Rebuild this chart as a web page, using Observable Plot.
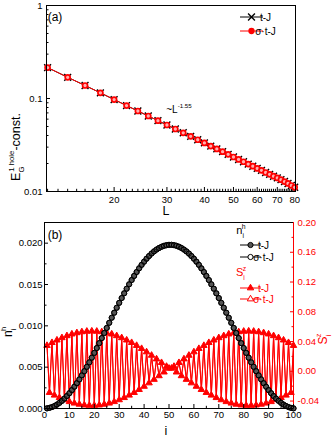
<!DOCTYPE html>
<html>
<head>
<meta charset="utf-8">
<script src="https://cdn.jsdelivr.net/npm/d3@7"></script>
<script src="https://cdn.jsdelivr.net/npm/@observablehq/plot@0.6"></script>
<style>
  html,body{margin:0;padding:0;background:#fff;}
  #chart{width:332px;height:439px;position:relative;overflow:hidden;}
  #pa{position:absolute;left:0;top:0;width:332px;height:215px;}
  #pb{position:absolute;left:0;top:215px;width:332px;height:224px;}
  #pa svg,#pb svg{position:absolute;left:0;top:0;}
</style>
</head>
<body>
<div id="chart"><div id="pa"></div><div id="pb"></div></div>
<script>
// ---------------- data: panel (a) ----------------
const sizesL = [12,14,16,18,20,22,24,26,28,30,32,34,36,38,40,42,44,46,48,50,52,54,56,58,60,62,64,66,68,70,72,74,76,78,80];
const egTJ = [0.215,0.169,0.138,0.115,0.0974,0.0840,0.0734,0.0648,0.0578,0.0519,0.0470,0.0428,0.0392,0.0360,0.0333,0.0308,0.0287,0.0268,0.0251,0.0235,0.0221,0.0209,0.0197,0.0187,0.0177,0.0169,0.0160,0.0153,0.0146,0.0140,0.0134,0.0128,0.0122,0.0116,0.0111];
const egSigmaTJ = [0.215,0.169,0.138,0.115,0.0974,0.0840,0.0734,0.0648,0.0578,0.0519,0.0470,0.0428,0.0392,0.0360,0.0333,0.0308,0.0287,0.0268,0.0251,0.0235,0.0221,0.0209,0.0197,0.0187,0.0177,0.0169,0.0160,0.0153,0.0146,0.0140,0.0134,0.0128,0.0122,0.0116,0.0111];
const xTickLabelsA = [20,30,40,50,60,70,80];
const yTickLabelsA = [0.01,0.1,1];

// ---------------- data: panel (b) ----------------
const sites = Array.from({length:100},(_,k)=>k+1);
const nhTJ = [
0.000019,0.000077,0.000172,0.000305,0.000475,0.000682,0.000924,0.001201,0.001512,0.001855,
0.002228,0.002633,0.003064,0.003523,0.004007,0.004513,0.005041,0.005585,0.006148,0.006727,
0.007313,0.007910,0.008519,0.009131,0.009746,0.010366,0.010980,0.011587,0.012188,0.012780,
0.013361,0.013935,0.014490,0.015027,0.015543,0.016039,0.016513,0.016957,0.017375,0.017764,
0.018123,0.018449,0.018744,0.019004,0.019228,0.019417,0.019568,0.019682,0.019759,0.019797,
0.019797,0.019759,0.019682,0.019568,0.019417,0.019228,0.019004,0.018744,0.018449,0.018123,
0.017764,0.017375,0.016957,0.016513,0.016039,0.015543,0.015027,0.014490,0.013935,0.013361,
0.012780,0.012188,0.011587,0.010980,0.010366,0.009746,0.009131,0.008519,0.007910,0.007313,
0.006727,0.006148,0.005585,0.005041,0.004513,0.004007,0.003523,0.003064,0.002633,0.002228,
0.001855,0.001512,0.001201,0.000924,0.000682,0.000475,0.000305,0.000172,0.000077,0.000019];
const nhSigmaTJ = nhTJ;
const szTJ = [
0.0346,-0.0286,0.0385,-0.0322,0.0419,-0.0355,0.0450,-0.0384,0.0477,-0.0409,
0.0500,-0.0429,0.0517,-0.0444,0.0530,-0.0454,0.0537,-0.0459,0.0540,-0.0459,
0.0537,-0.0454,0.0530,-0.0444,0.0517,-0.0429,0.0500,-0.0409,0.0477,-0.0384,
0.0450,-0.0355,0.0419,-0.0322,0.0385,-0.0286,0.0346,-0.0246,0.0305,-0.0203,
0.0260,-0.0157,0.0214,-0.0110,0.0165,-0.0061,0.0116,-0.0011,0.0065,0.0040,
0.0040,0.0065,-0.0011,0.0116,-0.0061,0.0165,-0.0110,0.0214,-0.0157,0.0260,
-0.0203,0.0305,-0.0246,0.0346,-0.0286,0.0385,-0.0322,0.0419,-0.0355,0.0450,
-0.0384,0.0477,-0.0409,0.0500,-0.0429,0.0517,-0.0444,0.0530,-0.0454,0.0537,
-0.0459,0.0540,-0.0459,0.0537,-0.0454,0.0530,-0.0444,0.0517,-0.0429,0.0500,
-0.0409,0.0477,-0.0384,0.0450,-0.0355,0.0419,-0.0322,0.0385,-0.0286,0.0346];
const szSigmaTJ = szTJ;
const xTickLabelsB = [0,10,20,30,40,50,60,70,80,90,100];
const yTickLabelsBLeft = [0,0.005,0.010,0.015,0.020];
const yTickLabelsBRight = [-0.04,0,0.04,0.08,0.12,0.16,0.20];
const seriesNames = ["t-J","σ·t-J"];

// ---------------- styling ----------------
const FONT = "'Liberation Sans', Arial, Helvetica, sans-serif";
const RED = "#ff0000";
const baseStyle = {background:"transparent", fontFamily:FONT, fontSize:"9.5px", color:"black", overflow:"visible"};

// ---------------- panel (a) ----------------
const tableA = sizesL.map((L,k)=>({L, tj:egTJ[k], stj:egSigmaTJ[k]}));
const minorXA = d3.range(12,80).filter(v=>v%10!==0);
const minorYA = [2,3,4,5,6,7,8,9].flatMap(m=>[m*0.01,m*0.1]);
const blank = ()=>"";

const plotA = Plot.plot({
  width:332, height:215, marginTop:5, marginRight:37, marginBottom:24, marginLeft:46,
  style:baseStyle,
  x:{type:"log", domain:[11.9,80.5], axis:null},
  y:{type:"log", domain:[0.01,1], axis:null},
  marks:[
    Plot.axisX(minorXA,{tickSize:2.2, dy:-2.2, tickFormat:blank, label:null}),
    Plot.axisX(xTickLabelsA,{tickSize:4, dy:-4, tickFormat:blank, label:null}),
    Plot.text(xTickLabelsA,{x:d=>d, frameAnchor:"bottom", lineAnchor:"top", dy:5, text:d=>String(d), fill:"black", fontSize:9.5}),
    Plot.axisY(minorYA,{tickSize:2.5, dx:2.5, tickFormat:blank, label:null}),
    Plot.axisY(yTickLabelsA,{tickSize:4, dx:4, tickFormat:blank, label:null}),
    Plot.axisY(yTickLabelsA,{tickSize:0, tickPadding:4, tickFormat:d=>String(d), label:null}),
    Plot.line(tableA,{x:"L", y:"tj", stroke:"black", strokeWidth:1}),
    Plot.dot(tableA,{x:"L", y:"tj", symbol:"times", r:3.2, stroke:"black", strokeWidth:1.4}),
    Plot.line(tableA,{x:"L", y:"stj", stroke:RED, strokeWidth:1}),
    Plot.dot(tableA,{x:"L", y:"stj", symbol:"circle", r:2.5, stroke:RED, fill:"#ffb0b0", strokeWidth:1.7}),
    Plot.frame({stroke:"black", strokeWidth:1})
  ]
});
document.getElementById("pa").appendChild(plotA);

// ---------------- panel (b) ----------------
const tableN = sites.map((i,k)=>({i, tj:nhTJ[k], stj:nhSigmaTJ[k]}));
const tableS = sites.map((i,k)=>({i, tj:szTJ[k], stj:szSigmaTJ[k]}));
const minorXB = d3.range(5,100,10);
const minorYBL = [0.0025,0.0075,0.0125,0.0175];
const minorYBR = [-0.02,0.02,0.06,0.10,0.14,0.18];
const dimsB = {width:332, height:224, marginTop:7, marginRight:39, marginBottom:31, marginLeft:44};

const plotS = Plot.plot({
  ...dimsB, style:baseStyle,
  x:{domain:[0,100], axis:null},
  y:{domain:[-0.05,0.20], axis:null},
  marks:[
    Plot.line(tableS,{x:"i", y:"stj", stroke:RED, strokeWidth:1}),
    Plot.line(tableS,{x:"i", y:"tj", stroke:RED, strokeWidth:1}),
    Plot.dot(tableS,{x:"i", y:"stj", symbol:"triangle", r:2.4, stroke:RED, fill:"white", strokeWidth:1}),
    Plot.dot(tableS,{x:"i", y:"tj", symbol:"triangle", r:2.4, fill:RED}),
    Plot.ruleX([100],{stroke:RED, strokeWidth:1}),
    Plot.axisY(minorYBR,{anchor:"right", tickSize:2.5, dx:-2.5, tickFormat:blank, color:RED, label:null}),
    Plot.axisY(yTickLabelsBRight,{anchor:"right", tickSize:4, dx:-4, tickFormat:blank, color:RED, label:null}),
    Plot.axisY(yTickLabelsBRight,{anchor:"right", tickSize:0, tickPadding:4, tickFormat:d=>d.toFixed(2), color:RED, label:null})
  ]
});
document.getElementById("pb").appendChild(plotS);

const plotN = Plot.plot({
  ...dimsB, style:baseStyle,
  x:{domain:[0,100], axis:null},
  y:{domain:[0,0.0225], axis:null},
  marks:[
    Plot.line(tableN,{x:"i", y:"tj", stroke:"black", strokeWidth:0.8}),
    Plot.dot(tableN,{x:"i", y:"tj", r:2.6, fill:"#555", stroke:"black", strokeWidth:1}),
    Plot.dot(tableN,{x:"i", y:"stj", r:2.6, fill:"none", stroke:"black", strokeWidth:0.7}),
    Plot.ruleX([0],{stroke:"black"}),
    Plot.ruleY([0],{stroke:"black"}),
    Plot.ruleY([0.0225],{stroke:"black"}),
    Plot.axisX(minorXB,{tickSize:2.2, dy:-2.2, tickFormat:blank, label:null}),
    Plot.axisX(xTickLabelsB,{tickSize:4, dy:-4, tickFormat:blank, label:null}),
    Plot.axisX(xTickLabelsB,{tickSize:0, tickPadding:3, tickFormat:d=>String(d), label:null}),
    Plot.axisY(minorYBL,{tickSize:2.5, dx:2.5, tickFormat:blank, label:null}),
    Plot.axisY(yTickLabelsBLeft,{tickSize:4, dx:4, tickFormat:blank, label:null}),
    Plot.axisY(yTickLabelsBLeft,{tickSize:0, tickPadding:2, tickFormat:d=>d.toFixed(3), label:null})
  ]
});
document.getElementById("pb").appendChild(plotN);

// ---------------- text / legends ----------------
function richText(svg, x, y, size, color, segs, rotate){
  const t = svg.append("text").attr("font-family",FONT).attr("font-size",size).attr("fill",color);
  if (rotate) t.attr("transform",`translate(${x},${y}) rotate(${rotate})`);
  else t.attr("x",x).attr("y",y);
  let cur = 0;
  for (const s of segs){
    const shift = s.sub ? size*0.32 : s.sup ? -size*0.48 : 0;
    const sp = t.append("tspan").text(s.t).attr("dy", shift-cur);
    cur = shift;
    if (s.sub || s.sup) sp.attr("font-size", size*0.62);
    if (s.dx) sp.attr("dx", s.dx);
  }
  return t;
}
function legendRow(svg, y, color, sym, r, fill, sw, label, x0, x1, textColor){
  svg.append("line").attr("x1",x0).attr("x2",x1).attr("y1",y).attr("y2",y).attr("stroke",color).attr("stroke-width",1);
  svg.append("path").attr("d", d3.symbol(sym, Math.PI*r*r)())
    .attr("transform",`translate(${(x0+x1)/2},${y})`)
    .attr("fill",fill).attr("stroke",color).attr("stroke-width",sw);
  svg.append("text").attr("x",x1+2.5).attr("y",y+3.5).attr("font-family",FONT).attr("font-size",10)
    .attr("fill",textColor).text(label);
}

const sa = d3.select(plotA);
richText(sa, 55, 21, 12, "black", [{t:"(a)"}]);
richText(sa, 179, 113, 10, "#000000", [{t:"~L"},{t:"-1.55", sup:true}]);
richText(sa, 166, 215, 12.5, "black", [{t:"L"}]);
richText(sa, 20, 147, 12.5, "black", [{t:"E"},{t:"G", sub:true},{t:"1 hole", sup:true, dx:-5.2},{t:"-const."}], -90);
legendRow(sa, 17, "black", d3.symbolTimes, 3.2, "none", 1.4, seriesNames[0], 240, 263, "black");
legendRow(sa, 31, RED, d3.symbolCircle, 2.4, RED, 1.5, seriesNames[1], 240, 263, "black");

const sn = d3.select(plotN);
richText(sn, 55, 24, 12, "black", [{t:"(b)"}]);
richText(sn, 166, 220, 12.5, "black", [{t:"i"}]);
richText(sn, 12, 117, 12, "black", [{t:"n"},{t:"i", sub:true},{t:"h", sup:true, dx:-2.3}], -90);
richText(sn, 327, 124, 12, RED, [{t:"S"},{t:"i", sub:true},{t:"z", sup:true, dx:-2.3}], -90);
richText(sn, 241, 19, 11, "black", [{t:"n"},{t:"i", sub:true},{t:"h", sup:true, dx:-2.1}]);
legendRow(sn, 30, "black", d3.symbolCircle, 2.6, "#555", 1, seriesNames[0], 240, 261, "black");
legendRow(sn, 42, "black", d3.symbolCircle, 2.6, "white", 1, seriesNames[1], 240, 261, "black");
richText(sn, 241, 61, 11, RED, [{t:"S"},{t:"i", sub:true},{t:"z", sup:true, dx:-2.1}]);
legendRow(sn, 73, RED, d3.symbolTriangle, 2.4, RED, 1, seriesNames[0], 240, 261, RED);
legendRow(sn, 84, RED, d3.symbolTriangle, 2.4, "white", 1, seriesNames[1], 240, 261, RED);
</script>
</body>
</html>
